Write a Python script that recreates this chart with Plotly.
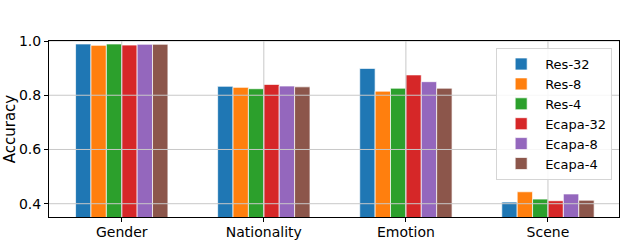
import plotly.graph_objects as go

categories = ["Gender", "Nationality", "Emotion", "Scene"]
series_names = ["Res-32", "Res-8", "Res-4", "Ecapa-32", "Ecapa-8", "Ecapa-4"]
res32 = [0.989, 0.833, 0.899, 0.406]
res8 = [0.984, 0.829, 0.815, 0.444]
res4 = [0.989, 0.824, 0.826, 0.417]
ecapa32 = [0.985, 0.840, 0.875, 0.411]
ecapa8 = [0.988, 0.834, 0.850, 0.436]
ecapa4 = [0.988, 0.831, 0.826, 0.413]
y_ticks = [0.4, 0.6, 0.8, 1.0]
y_tick_labels = ["0.4", "0.6", "0.8", "1.0"]
y_title = "Accuracy"

series_values = [res32, res8, res4, ecapa32, ecapa8, ecapa4]
colors = ["#1f77b4", "#ff7f0e", "#2ca02c", "#d62728", "#9467bd", "#8c564b"]
grid_color = "#c8c8c8"

fig = go.Figure()
x_idx = list(range(len(categories)))
for name, vals, col in zip(series_names, series_values, colors):
    fig.add_trace(go.Bar(
        x=x_idx, y=vals, name=name,
        marker=dict(color=col, line=dict(color="rgba(255,255,255,0.7)", width=1)),
    ))

# grid lines drawn above the bars (as in the reference), at the axis tick values
for v in y_ticks:
    fig.add_hline(y=v, line=dict(color=grid_color, width=1), layer="above")
for v in x_idx:
    fig.add_vline(x=v, line=dict(color=grid_color, width=1), layer="above")

font = "DejaVu Sans, sans-serif"
fig.update_layout(
    width=622, height=240,
    margin=dict(l=49, r=3, t=41, b=23),
    paper_bgcolor="white", plot_bgcolor="white",
    barmode="group", bargap=0.35, bargroupgap=0,
    font=dict(family=font, size=14, color="black"),
    showlegend=True,
    legend=dict(
        x=0.988, y=0.96, xanchor="right", yanchor="top",
        bgcolor="rgba(255,255,255,0.85)", bordercolor="#d5d5d5", borderwidth=1,
        font=dict(family=font, size=13), tracegroupgap=0,
        itemwidth=38,
    ),
    xaxis=dict(
        tickmode="array", tickvals=x_idx, ticktext=categories,
        range=[-0.512, 3.5], automargin=False,
        showgrid=False,
        showline=True, linecolor="black", linewidth=1, mirror=True,
        ticks="outside", ticklen=4, tickcolor="black",
        tickfont=dict(size=14), ticklabelstandoff=-2,
        zeroline=False, layer="above traces",
    ),
    yaxis=dict(
        tickmode="array", tickvals=y_ticks, ticktext=y_tick_labels,
        range=[0.351, 1.0], automargin=False,
        showgrid=False,
        showline=True, linecolor="black", linewidth=1, mirror=True,
        ticks="outside", ticklen=4, tickcolor="black",
        tickfont=dict(size=14),
        zeroline=False, layer="above traces",
    ),
    annotations=[dict(
        text=y_title, textangle=-90, showarrow=False,
        xref="paper", yref="paper", x=-0.068, y=0.5,
        xanchor="center", yanchor="middle",
        font=dict(family=font, size=15, color="black"),
    )],
)

fig.write_html(
    "out.html",
    config={"displayModeBar": False},
    post_script="document.body.style.margin='0';document.body.style.overflow='hidden';",
)
